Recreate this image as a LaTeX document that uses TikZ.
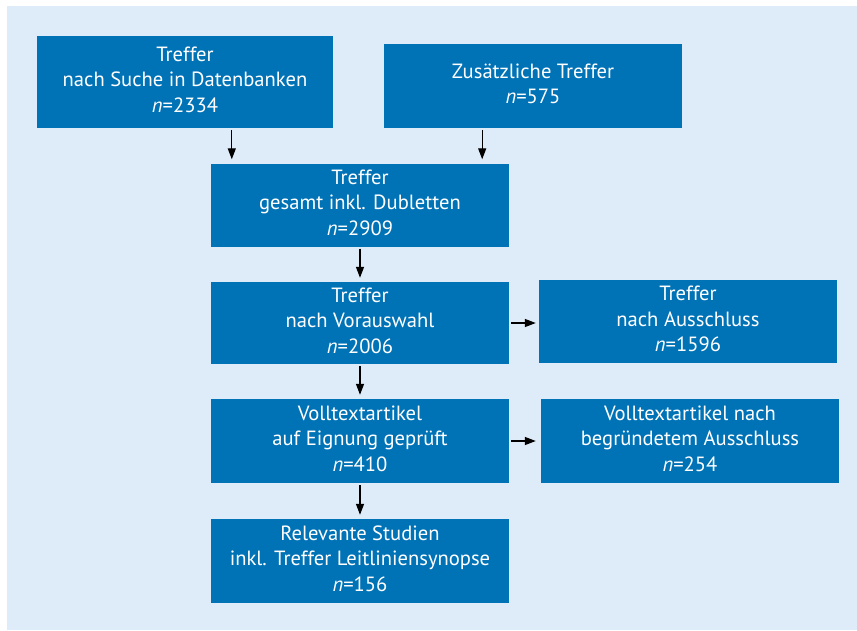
\documentclass[tikz,border=0pt]{standalone}
\usepackage{fontspec}
\setmainfont{PT Sans}
\usetikzlibrary{arrows.meta}
\definecolor{bg}{RGB}{222,235,248}
\definecolor{boxblue}{RGB}{0,114,182}
\tikzset{
  fbox/.style={fill=boxblue, text=white, align=center, inner sep=0pt,
    text depth=5pt, font=\fontsize{20.6}{25.5}\selectfont},
  arr/.style={-{Triangle[length=11pt,width=8pt]}, line width=1.3pt, black},
}
\begin{document}
\begin{tikzpicture}[x=1pt,y=-1pt]
\useasboundingbox (0,0) rectangle (857,630);
\fill[white] (0,0) rectangle (857,630);
\fill[bg] (7,6) rectangle (857,630);

\node[fbox, minimum width=296, minimum height=92] (b1) at (185,82)
  {Treffer\\nach Suche in Datenbanken\\\textit{n}=2334};
\node[fbox, minimum width=298, minimum height=84] (b2) at (533,86)
  {Zusätzliche Treffer\\\textit{n}=575};
\node[fbox, minimum width=298, minimum height=83] (b3) at (360,205)
  {Treffer\\gesamt inkl. Dubletten\\\textit{n}=2909};
\node[fbox, minimum width=298, minimum height=82] (b4) at (360,323)
  {Treffer\\nach Vorauswahl\\\textit{n}=2006};
\node[fbox, minimum width=298, minimum height=83] (b5) at (688,321.5)
  {Treffer\\nach Ausschluss\\\textit{n}=1596};
\node[fbox, minimum width=298, minimum height=84] (b6) at (360,441)
  {Volltextartikel\\auf Eignung geprüft\\\textit{n}=410};
\node[fbox, minimum width=298, minimum height=84] (b7) at (690,441)
  {Volltextartikel nach\\begründetem Ausschluss\\\textit{n}=254};
\node[fbox, minimum width=298, minimum height=84] (b8) at (360,561)
  {Relevante Studien\\inkl. Treffer Leitliniensynopse\\\textit{n}=156};

\draw[arr, shorten <=2pt, shorten >=4pt]
  ([xshift=21pt]b3.north west |- b1.south) -- ([xshift=21pt]b3.north west);
\draw[arr, shorten <=2pt, shorten >=4pt]
  ([xshift=-27pt]b3.north east |- b2.south) -- ([xshift=-27pt]b3.north east);
\draw[arr, shorten <=2pt, shorten >=4pt] (b3.south) -- (b4.north);
\draw[arr, shorten <=2pt, shorten >=4pt] (b4.south) -- (b6.north);
\draw[arr, shorten <=2pt, shorten >=4pt] (b6.south) -- (b8.north);
\draw[arr, shorten <=2pt, shorten >=3pt] (b4.east) -- (b4.east -| b5.west);
\draw[arr, shorten <=2pt, shorten >=5pt] (b6.east) -- (b6.east -| b7.west);
\end{tikzpicture}
\end{document}
